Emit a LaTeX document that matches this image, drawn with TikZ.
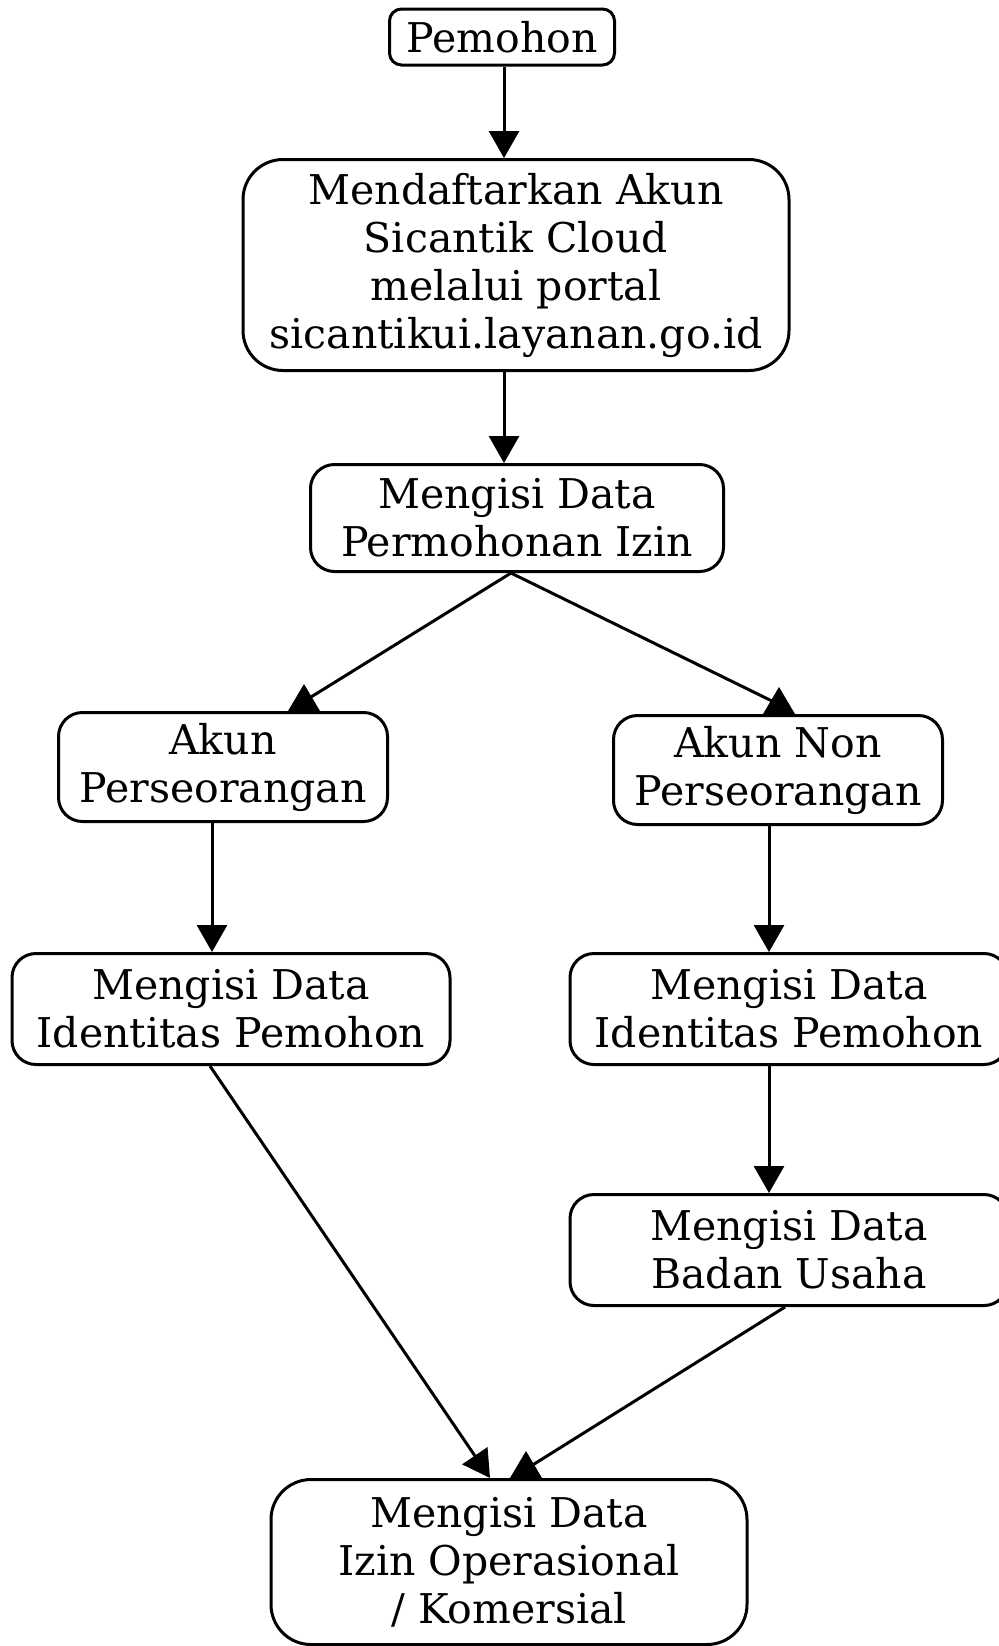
\documentclass[tikz,border=0pt]{standalone}
\usepackage{fontspec}
\setmainfont{DejaVu Serif}
\usetikzlibrary{arrows.meta}
\tikzset{
  box/.style={draw, line width=1.5pt, align=center, inner sep=0pt, font=\fontsize{20.5}{24}\selectfont},
  link/.style={line width=1.5pt, -{Triangle[length=13.5pt,width=15pt]}},
  plain/.style={line width=1.5pt},
  uptip/.style={fill=black, line join=miter},
}
\begin{document}
\begin{tikzpicture}[x=0.5pt, y=-0.5pt, line join=round]
\useasboundingbox (0,0) rectangle (998,1646);
% steps
\node[box, minimum width=112.5pt, minimum height=28pt, rounded corners=6pt] (pemohon) at (502,37) {Pemohon};
\node[box, minimum width=273pt, minimum height=105.5pt, rounded corners=20pt] (daftar) at (516,265)
  {Mendaftarkan Akun\\Sicantik Cloud\\melalui portal\\sicantikui.layanan.go.id};
\node[box, minimum width=206.5pt, minimum height=53.5pt, rounded corners=12pt] (isi) at (517,518)
  {Mengisi Data\\Permohonan Izin};
\node[box, minimum width=164.5pt, minimum height=54.5pt, rounded corners=12pt] (akunP) at (223,767)
  {Akun\\Perseorangan};
\node[box, minimum width=164.5pt, minimum height=54.5pt, rounded corners=12pt] (akunNP) at (778,770)
  {Akun Non\\Perseorangan};
\node[box, minimum width=219pt, minimum height=55.5pt, rounded corners=12pt] (idL) at (231,1009)
  {Mengisi Data\\Identitas Pemohon};
\node[box, minimum width=219pt, minimum height=55.5pt, rounded corners=12pt] (idR) at (789,1009)
  {Mengisi Data\\Identitas Pemohon};
\node[box, minimum width=219pt, minimum height=55.5pt, rounded corners=12pt] (badan) at (789,1250)
  {Mengisi Data\\Badan Usaha};
\node[box, minimum width=238pt, minimum height=82.5pt, rounded corners=20pt] (akhir) at (509,1562)
  {Mengisi Data\\Izin Operasional\\/ Komersial};
% links
\draw[link] ([xshift=1pt]pemohon.south) -- ([xshift=1pt]pemohon.south |- daftar.north);
\draw[link] ([xshift=1pt]pemohon.south |- daftar.south) -- ([xshift=1pt]pemohon.south |- isi.north);
\draw[plain] ([xshift=-3pt]isi.south) -- ([xshift=44pt,yshift=7pt]akunP.north);
\fill[uptip] ([xshift=40.5pt]akunP.north) ++(-8pt,0) -- ++(16pt,0) -- ++(-8pt,13.5pt) -- cycle;
\draw[plain] ([xshift=-3pt]isi.south) -- ([xshift=-2pt,yshift=6pt]akunNP.north);
\fill[uptip] ([xshift=0.5pt]akunNP.north) ++(-8pt,0) -- ++(16pt,0) -- ++(-8pt,13.5pt) -- cycle;
\draw[link] ([xshift=-5.5pt]akunP.south) -- ([xshift=-5.5pt]akunP.south |- idL.north);
\draw[link] ([xshift=-4.5pt]akunNP.south) -- ([xshift=-4.5pt]akunNP.south |- idR.north);
\draw[link] ([xshift=-4.5pt]akunNP.south |- idR.south) -- ([xshift=-4.5pt]akunNP.south |- badan.north);
\draw[link] ([xshift=-10.5pt]idL.south) -- ([xshift=-9.5pt]akhir.north);
\draw[plain] ([xshift=-2pt]badan.south) -- ([xshift=11pt,yshift=6pt]akhir.north);
\fill[uptip] ([xshift=8.5pt]akhir.north) ++(-8pt,0) -- ++(16pt,0) -- ++(-8pt,13.5pt) -- cycle;
\end{tikzpicture}
\end{document}
